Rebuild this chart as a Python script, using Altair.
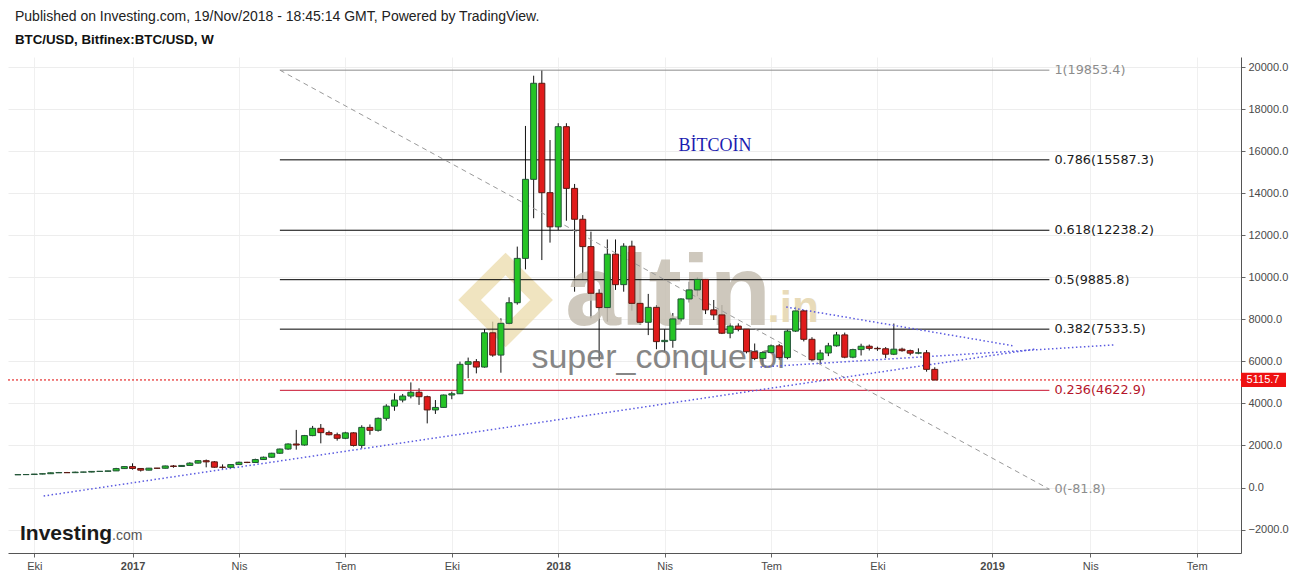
import altair as alt
import pandas as pd

# ---------------- data ----------------
week_start = "2016-09-26"   # first weekly bar shown

opens = [605, 612, 617, 640, 655, 700, 710, 705, 730, 735, 765, 770, 790, 900, 995, 905, 825, 920, 915, 1025,
         1000, 1050, 1160, 1275, 1220, 965, 960, 1090, 1200, 1190, 1330, 1440, 1630, 1830, 2070, 2020, 2470, 2816,
         2610, 2510, 2340, 2600, 2000, 2860, 2720, 3290, 3870, 4160, 4350, 4530, 4320, 3690, 3810, 4400, 4460,
         5860, 5985, 5730, 7360, 6300, 7810, 8790, 10900, 14660, 19230, 14025, 12400, 17165, 14230, 12760, 11460,
         9240, 8560, 11100, 9650, 11480, 8760, 7860, 8570, 6940, 7000, 8020, 8970, 9400, 9900, 8450, 8210, 7340,
         7680, 7530, 6460, 6140, 6420, 6740, 6180, 7440, 8400, 7050, 6080, 6400, 6740, 7260, 6200, 6560, 6720,
         6620, 6600, 6340, 6580, 6510, 6390, 6410, 5620]
closes = [612, 617, 640, 655, 700, 710, 705, 730, 735, 765, 770, 790, 900, 995, 905, 825, 920, 915, 1025, 1000,
          1050, 1160, 1275, 1220, 965, 960, 1090, 1200, 1190, 1330, 1440, 1630, 1830, 2070, 2020, 2470, 2816, 2610,
          2510, 2340, 2600, 2000, 2860, 2720, 3290, 3870, 4160, 4350, 4530, 4320, 3690, 3810, 4400, 4460, 5860,
          5985, 5730, 7360, 6300, 7810, 8790, 10900, 14660, 19230, 14025, 12400, 17165, 14230, 12760, 11460, 9240,
          8560, 11100, 9650, 11480, 8760, 7860, 8570, 6940, 7000, 8020, 8970, 9400, 9900, 8450, 8210, 7340, 7680,
          7530, 6460, 6140, 6420, 6740, 6180, 7440, 8400, 7050, 6080, 6400, 6740, 7260, 6200, 6560, 6720, 6620,
          6600, 6340, 6580, 6510, 6390, 6410, 5620, 5115.7]
highs = [618, 622, 645, 662, 712, 740, 740, 752, 745, 772, 778, 795, 935, 1000, 1150, 915, 930, 930, 1040, 1070,
         1060, 1200, 1300, 1330, 1260, 1100, 1100, 1230, 1220, 1370, 1470, 1650, 1850, 2100, 2740, 2500, 2930, 3020,
         2700, 2610, 2650, 2630, 2960, 3000, 3330, 3960, 4480, 4450, 5000, 4720, 4370, 4160, 4420, 4560, 5990,
         6180, 6110, 7540, 7890, 8050, 9050, 11460, 17200, 19590, 19853.4, 16530, 17330, 17330, 14440, 12960,
         12170, 9430, 11800, 11800, 11620, 11740, 9870, 9210, 8680, 7530, 8300, 9000, 9790, 10000, 9920, 8920,
         8680, 7810, 7810, 7530, 6850, 6480, 6800, 6830, 7500, 8600, 8450, 7150, 6550, 6880, 7400, 7370, 6600,
         6840, 6800, 6700, 6680, 7800, 6650, 6560, 6620, 6540, 5720]
lows = [595, 605, 612, 628, 650, 695, 700, 690, 720, 725, 755, 765, 785, 880, 850, 760, 815, 885, 910, 940,
        990, 1040, 1140, 960, 940, 890, 930, 1080, 1160, 1180, 1310, 1420, 1600, 1790, 1800, 1990, 2440, 2100,
        2480, 2230, 2300, 1950, 1860, 2510, 2660, 3180, 3650, 4050, 4240, 3930, 3050, 3500, 3800, 4200, 4450,
        5200, 5430, 5700, 6220, 5460, 7750, 8700, 10380, 12810, 10820, 11650, 12250, 12690, 9315, 9870, 8050,
        6000, 7890, 9400, 9315, 8410, 7730, 7250, 6580, 6460, 6650, 7900, 8800, 9100, 8250, 7970, 7300, 7100,
        7430, 6380, 6060, 5750, 6380, 6080, 6100, 7400, 6950, 6000, 5880, 6250, 6700, 6150, 6150, 6280, 6520,
        6500, 6150, 6300, 6460, 6290, 6340, 5510, 5100]

last_price = 5115.7

fib_ratios = ["1", "0.786", "0.618", "0.5", "0.382", "0.236", "0"]
fib_values = [19853.4, 15587.3, 12238.2, 9885.8, 7533.5, 4622.9, -81.8]
fib_colors = ["#8c8c8c", "#000000", "#000000", "#000000", "#000000", "#c8102e", "#8c8c8c"]
fib_text_colors = ["#8c8c8c", "#1a1a1a", "#1a1a1a", "#1a1a1a", "#1a1a1a", "#b5152b", "#8c8c8c"]
fib_start = "2017-05-08"
fib_end = "2019-02-25"

trend_ids = ["support", "support", "lower", "lower", "upper", "upper"]
trend_dates = ["2016-10-18", "2019-02-13", "2018-06-23", "2019-04-21", "2018-07-15", "2019-01-26"]
trend_values = [-404, 6589, 5733, 6779, 8587, 6732]

tick_dates = ["2016-10-10", "2017-01-02", "2017-04-03", "2017-07-03", "2017-10-02", "2018-01-01",
              "2018-04-02", "2018-07-02", "2018-10-01", "2019-01-07", "2019-04-01", "2019-07-01"]
tick_labels = ["Eki", "2017", "Nis", "Tem", "Eki", "2018", "Nis", "Tem", "Eki", "2019", "Nis", "Tem"]
y_ticks = [-2000, 0, 2000, 4000, 6000, 8000, 10000, 12000, 14000, 16000, 18000, 20000]

x_domain = ["2016-09-21T19:00:00", "2019-08-03T14:00:00"]
y_domain = [-3116, 20480]

# ---------------- helpers ----------------
def ms(d):
    return int(pd.Timestamp(d, tz="UTC").value // 10**6)

W, H = 1233, 496
FONT = "Liberation Sans"

XS = alt.Scale(type="utc", domain=[ms(d) for d in x_domain], nice=False)
YS = alt.Scale(domain=y_domain, nice=False, zero=False)

label_expr = ("[" + ",".join(f"'{l}'" for l in tick_labels) + "][indexof(["
              + ",".join(str(ms(d)) for d in tick_dates) + "], time(datum.value))]")

x_axis = alt.Axis(
    orient="bottom", values=[ms(d) for d in tick_dates], labelExpr=label_expr, title=None,
    labelFont=FONT, labelFontSize=11, labelColor="#4a4a4a",
    labelFontWeight={"condition": {"test": "utcmonth(datum.value) === 0", "value": "bold"}, "value": "normal"},
    tickSize=4, tickColor="#666", domainColor="#555", gridColor="#f0f0f0",
    labelPadding=3, labelOverlap=False, labelFlush=False,
)
y_axis = alt.Axis(
    orient="right", values=y_ticks, format=".1f", title=None,
    labelFont=FONT, labelFontSize=11, labelColor="#4a4a4a",
    tickSize=4, tickColor="#666", domainColor="#555", gridColor="#ededed",
    labelPadding=3,
)


def X(field):
    return alt.X(field, scale=XS, axis=x_axis)


def Y(field):
    return alt.Y(field, scale=YS, axis=y_axis)


# ---------------- tables ----------------
dates = pd.date_range(week_start, periods=len(closes), freq="7D").strftime("%Y-%m-%d").tolist()
candles = pd.DataFrame({"date": dates, "open": opens, "high": highs, "low": lows, "close": closes})

fib = pd.DataFrame({
    "ratio": fib_ratios, "value": fib_values, "color": fib_colors, "tcolor": fib_text_colors,
    "start": fib_start, "end": fib_end,
})
fib["label"] = [f"{r}({v})" for r, v in zip(fib_ratios, fib_values)]

diag = pd.DataFrame({"date": [fib_start, fib_end], "value": [fib_values[0], fib_values[-1]]})
trend = pd.DataFrame({"id": trend_ids, "date": trend_dates, "value": trend_values})
price = pd.DataFrame({"price": [last_price], "label": [f"{last_price}"]})

# ---------------- layers ----------------
wicks = alt.Chart(candles).mark_rule(color="#111111", strokeWidth=1).encode(
    x=X("date:T"), y=Y("low:Q"), y2="high:Q",
)

logo = alt.Chart(pd.DataFrame({"date": ["2017-11-17"], "value": [8920]})).mark_point(
    shape="diamond", size=5200, filled=False, strokeWidth=16, color="#ecdcab", opacity=0.75
).encode(x=X("date:T"), y=Y("value:Q"))

altin = alt.Chart(pd.DataFrame({"date": ["2018-01-07"], "value": [7731], "t": ["altin"]})).mark_text(
    font=FONT, fontSize=100, fontWeight="bold", color="#c6bfb2", align="left", baseline="alphabetic", opacity=0.85
).encode(x=X("date:T"), y=Y("value:Q"), text="t:N")

dotin = alt.Chart(pd.DataFrame({"date": ["2018-06-29"], "value": [7873], "t": [".in"]})).mark_text(
    font=FONT, fontSize=44, fontWeight="bold", color="#e6d8b2", align="left", baseline="alphabetic", opacity=0.9
).encode(x=X("date:T"), y=Y("value:Q"), text="t:N")

author = alt.Chart(pd.DataFrame({"date": ["2018-03-29"], "value": [6160], "t": ["super_conqueror"]})).mark_text(
    font=FONT, fontSize=34, color="#7a7a7a", align="center", baseline="middle", opacity=0.9
).encode(x=X("date:T"), y=Y("value:Q"), text="t:N")

fib_rules = alt.Chart(fib).mark_rule(strokeWidth=1).encode(
    x=X("start:T"), x2="end:T", y=Y("value:Q"), color=alt.Color("color:N", scale=None),
)
fib_text = alt.Chart(fib).mark_text(font="DejaVu Sans", fontSize=12.8, align="left", baseline="middle", dx=5).encode(
    x=X("end:T"), y=Y("value:Q"), text="label:N", color=alt.Color("tcolor:N", scale=None),
)
diag_line = alt.Chart(diag).mark_line(color="#9a9a9a", strokeWidth=1, strokeDash=[5, 4]).encode(
    x=X("date:T"), y=Y("value:Q")
)

trend_lines = alt.Chart(trend).mark_line(color="#5a5ae0", strokeWidth=1.5, strokeDash=[1.5, 2.5]).encode(
    x=X("date:T"), y=Y("value:Q"), detail="id:N"
)

price_rule = alt.Chart(price).mark_rule(color="#e00000", strokeWidth=1, strokeDash=[2, 2]).encode(
    x=alt.value(0), x2=alt.value(W), y=Y("price:Q")
)
price_box = alt.Chart(price).transform_calculate(lo="datum.price - 340", hi="datum.price + 340").mark_rect(
    color="#ee1111"
).encode(x=alt.value(W), x2=alt.value(W + 45), y=Y("lo:Q"), y2="hi:Q")
price_text = alt.Chart(price).mark_text(font=FONT, fontSize=11, color="white", align="center", baseline="middle").encode(
    x=alt.value(W + 22), y=Y("price:Q"), text="label:N"
)

bodies = alt.Chart(candles).mark_bar(width=6, strokeWidth=1).encode(
    x=X("date:T"), y=Y("open:Q"), y2="close:Q",
    fill=alt.condition("datum.close >= datum.open", alt.value("#25c425"), alt.value("#e01b1b")),
    stroke=alt.condition("datum.close >= datum.open", alt.value("#225437"), alt.value("#5b1a13")),
)

bitcoin = alt.Chart(pd.DataFrame({"date": ["2018-05-15"], "value": [16246], "t": ["BİTCOİN"]})).mark_text(
    font="Liberation Serif", fontSize=18, color="#1c1cb0", align="center", baseline="middle"
).encode(x=X("date:T"), y=Y("value:Q"), text="t:N")

head1 = alt.Chart(pd.DataFrame({"t": ["Published on Investing.com, 19/Nov/2018 - 18:45:14 GMT, Powered by TradingView."]})).mark_text(
    font=FONT, fontSize=14, color="#222222", align="left", baseline="middle").encode(
    x=alt.value(7), y=alt.value(-40), text="t:N")
head2 = alt.Chart(pd.DataFrame({"t": ["BTC/USD, Bitfinex:BTC/USD, W"]})).mark_text(
    font=FONT, fontSize=13.3, fontWeight="bold", color="#111111", align="left", baseline="middle").encode(
    x=alt.value(7), y=alt.value(-17), text="t:N")
inv1 = alt.Chart(pd.DataFrame({"t": ["Investing"]})).mark_text(
    font=FONT, fontSize=21, fontWeight="bold", color="#1a1a1a", align="left", baseline="alphabetic").encode(
    x=alt.value(12), y=alt.value(483), text="t:N")
inv2 = alt.Chart(pd.DataFrame({"t": [".com"]})).mark_text(
    font=FONT, fontSize=14, color="#555555", align="left", baseline="alphabetic").encode(
    x=alt.value(104), y=alt.value(483), text="t:N")

chart = alt.layer(
    wicks, logo, altin, dotin, author, fib_rules, fib_text, diag_line, trend_lines,
    price_rule, price_box, price_text, bodies, bitcoin, head1, head2, inv1, inv2,
).properties(
    width=W, height=H,
    padding={"left": 0, "top": 49, "right": 50, "bottom": 22},
    autosize=alt.AutoSizeParams(type="none"),
).configure_view(strokeWidth=0)

chart.save("out.html", embed_options={"renderer": "svg", "actions": False})
